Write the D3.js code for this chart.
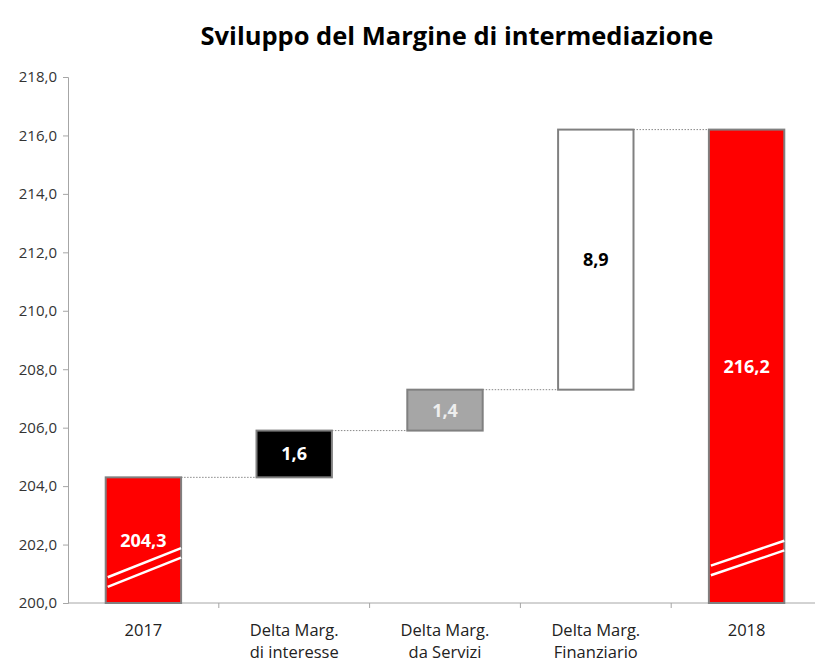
<!DOCTYPE html>
<html>
<head>
<meta charset="utf-8">
<script src="https://cdn.jsdelivr.net/npm/d3@7"></script>
<style>
  body { margin: 0; background: #fff; }
  text { font-family: "Open Sans", "DejaVu Sans", sans-serif; }
</style>
</head>
<body>
<div id="chart-area"></div>
<script>
// data
var categories = ["2017", "Delta Marg.|di interesse", "Delta Marg.|da Servizi", "Delta Marg.|Finanziario", "2018"];
var bases  = [200.0, 204.3, 205.9, 207.3, 200.0];
var tops   = [204.3, 205.9, 207.3, 216.2, 216.2];
var labels = ["204,3", "1,6", "1,4", "8,9", "216,2"];
var yTicks = [200, 202, 204, 206, 208, 210, 212, 214, 216, 218];

var fills      = ["#ff0000", "#000000", "#a6a6a6", "#ffffff", "#ff0000"];
var labelFills = ["#ffffff", "#ffffff", "#eeeeee", "#000000", "#ffffff"];

var W = 815, H = 665;
var margin = { top: 77, right: -7, bottom: 62, left: 68 },
    width = W - margin.left - margin.right,
    height = H - margin.top - margin.bottom;

var svg = d3.select("#chart-area")
    .append("svg")
    .attr("width", W)
    .attr("height", H);

svg.append("text")
    .attr("x", 457)
    .attr("y", 45)
    .attr("text-anchor", "middle")
    .attr("font-size", "25.5px")
    .attr("font-weight", "bold")
    .attr("fill", "#000")
    .text("Sviluppo del Margine di intermediazione");

var g = svg.append("g")
    .attr("transform", "translate(" + margin.left + "," + margin.top + ")");

var x = d3.scaleBand()
    .domain(categories)
    .range([0, width])
    .paddingInner(0.5)
    .paddingOuter(0.25);

var xb = d3.scaleBand().domain(categories).range([0, width]);

var y = d3.scaleLinear()
    .domain([200, 218])
    .range([height, 0]);

// y axis
var yAxis = g.append("g")
    .call(d3.axisLeft(y).tickValues(yTicks).tickSize(5).tickPadding(6)
        .tickFormat(d => d3.format(".1f")(d).replace(".", ",")));
yAxis.select(".domain").attr("stroke", "#a6a6a6");
yAxis.selectAll(".tick line").attr("stroke", "#a6a6a6");
yAxis.selectAll("text").attr("font-size", "15px").attr("fill", "#333");

// x axis line + ticks between categories
g.append("line")
    .attr("x1", 0).attr("x2", width)
    .attr("y1", height).attr("y2", height)
    .attr("stroke", "#a6a6a6");

g.selectAll(".xtick")
    .data(categories.slice(1))
    .enter().append("line")
    .attr("x1", d => xb(d)).attr("x2", d => xb(d))
    .attr("y1", height).attr("y2", height + 5)
    .attr("stroke", "#a6a6a6");

g.selectAll(".xlab")
    .data(categories)
    .enter().append("text")
    .attr("x", d => xb(d) + xb.bandwidth() / 2)
    .attr("y", height + 33)
    .attr("text-anchor", "middle")
    .attr("font-size", "16.5px")
    .attr("fill", "#222")
    .each(function(d) {
        var parts = d.split("|");
        var t = d3.select(this);
        parts.forEach((p, i) => {
            t.append("tspan")
                .attr("x", xb(d) + xb.bandwidth() / 2)
                .attr("dy", i === 0 ? 0 : "1.35em")
                .text(p);
        });
    });

// connectors
var conn = d3.range(categories.length - 1);
g.selectAll(".conn")
    .data(conn)
    .enter().append("line")
    .attr("x1", i => x(categories[i]) + x.bandwidth())
    .attr("x2", i => x(categories[i + 1]))
    .attr("y1", i => y(tops[i]))
    .attr("y2", i => y(tops[i]))
    .attr("stroke", "#888")
    .attr("stroke-width", 1)
    .attr("stroke-dasharray", "1.5,1.5");

// bars
g.selectAll("rect.bar")
    .data(categories)
    .enter().append("rect")
    .attr("class", "bar")
    .attr("x", d => x(d))
    .attr("y", (d, i) => y(tops[i]))
    .attr("width", x.bandwidth())
    .attr("height", (d, i) => y(bases[i]) - y(tops[i]))
    .attr("fill", (d, i) => fills[i])
    .attr("stroke", "#808080")
    .attr("stroke-width", 2);

// break marks on the full bars
var breaks = [
    { i: 0, lo: 0.55, hi: 1.55 },
    { i: 4, lo: 0.95, hi: 1.8 }
];
breaks.forEach(b => {
    [0, 0.33].forEach(off => {
        g.append("line")
            .attr("x1", x(categories[b.i]) + 2)
            .attr("x2", x(categories[b.i]) + x.bandwidth())
            .attr("y1", y(200 + b.lo + off))
            .attr("y2", y(200 + b.hi + off))
            .attr("stroke", "#fff")
            .attr("stroke-width", 2.5);
    });
});

// value labels
g.selectAll(".val")
    .data(categories)
    .enter().append("text")
    .attr("x", d => x(d) + x.bandwidth() / 2)
    .attr("y", (d, i) => (y(tops[i]) + y(bases[i])) / 2)
    .attr("dy", "0.36em")
    .attr("text-anchor", "middle")
    .attr("font-size", "18px")
    .attr("font-weight", "bold")
    .attr("fill", (d, i) => labelFills[i])
    .text((d, i) => labels[i]);
</script>
</body>
</html>
